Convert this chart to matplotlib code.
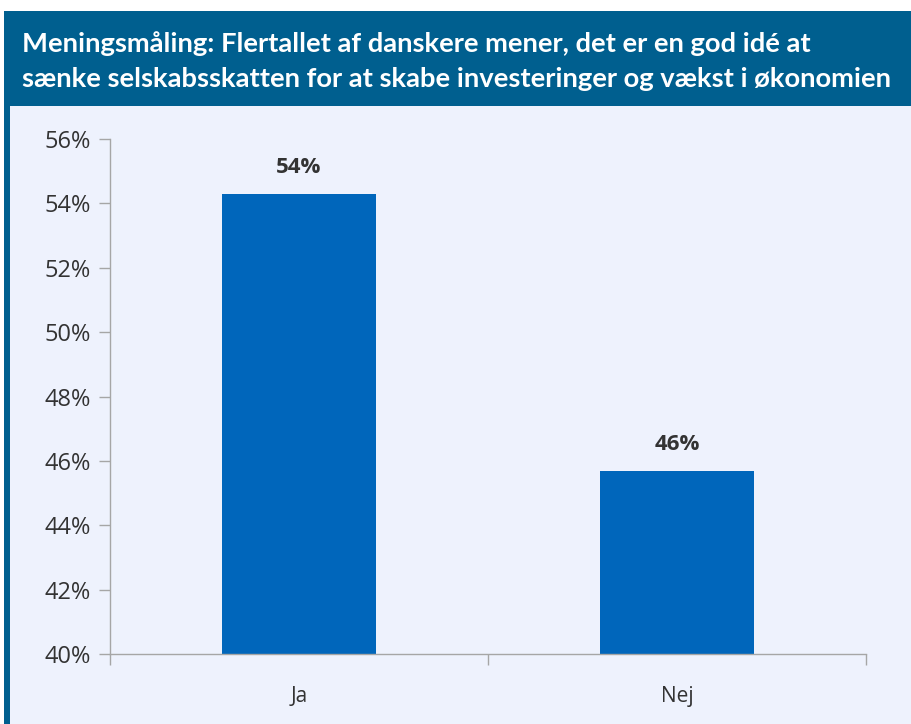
import matplotlib
matplotlib.use("Agg")
import matplotlib.pyplot as plt
from matplotlib.patches import Rectangle
from matplotlib.ticker import FuncFormatter, FixedLocator

categories = ["Ja", "Nej"]
values = [54.3, 45.7]
value_labels = ["54%", "46%"]
yticks = [40, 42, 44, 46, 48, 50, 52, 54, 56]
title_lines = ["Meningsmåling: Flertallet af danskere mener, det er en god idé at",
               "sænke selskabsskatten for at skabe investeringer og vækst i økonomien"]

W, H = 912, 724
fig = plt.figure(figsize=(W / 100, H / 100), dpi=100)
fig.patch.set_facecolor("white")

dark = "#005f8f"
bg = "#eef2fd"
barc = "#0066bb"
txt = "#333333"
axc = "#a6a6a6"

# background panel
fig.add_artist(Rectangle((10 / W, 0), 1 - 10 / W, 1 - 106 / H, transform=fig.transFigure,
                         facecolor=bg, edgecolor="none", zorder=0))
# title bar
fig.add_artist(Rectangle((4 / W, 1 - 106 / H), 1 - 4 / W, (106 - 11) / H, transform=fig.transFigure,
                         facecolor=dark, edgecolor="none", zorder=0))
# left border
fig.add_artist(Rectangle((4 / W, 0), 6 / W, 1 - 106 / H, transform=fig.transFigure,
                         facecolor=dark, edgecolor="none", zorder=0))

fig.text(22 / W, 1 - 44 / H, title_lines[0], color="white", fontsize=19.7, fontweight="bold",
         family="Lato", va="center", ha="left")
fig.text(22 / W, 1 - 79 / H, title_lines[1], color="white", fontsize=19.7, fontweight="bold",
         family="Lato", va="center", ha="left")

ax = fig.add_axes([110 / W, (H - 654) / H, (866 - 110) / W, (654 - 139) / H])
ax.set_facecolor("none")
x = list(range(len(categories)))
bars = ax.bar(x, values, width=0.41, color=barc, zorder=2)
ax.set_ylim(40, 56)
ax.set_xlim(-0.5, len(categories) - 0.5)
ax.yaxis.set_major_locator(FixedLocator(yticks))
ax.yaxis.set_major_formatter(FuncFormatter(lambda v, p: f"{v:.0f}%"))
ax.set_xticks(x)
ax.set_xticklabels(categories)
ax.xaxis.set_minor_locator(FixedLocator([-0.5, 0.5, 1.5]))
ax.tick_params(axis="x", which="major", length=0, pad=23, labelsize=15, labelcolor=txt)
ax.tick_params(axis="x", which="minor", length=8, color=axc, width=1)
ax.tick_params(axis="y", length=8, color=axc, width=1, labelsize=17, labelcolor=txt, pad=6)
for lab in ax.get_xticklabels() + ax.get_yticklabels():
    lab.set_family("Open Sans")
for s in ["top", "right"]:
    ax.spines[s].set_visible(False)
for s in ["left", "bottom"]:
    ax.spines[s].set_color(axc)
    ax.spines[s].set_linewidth(1)

for xi, v, lab in zip(x, values, value_labels):
    ax.annotate(lab, (xi, v), xytext=(0, 11), textcoords="offset points", ha="center", va="bottom",
                fontsize=16, fontweight="bold", color=txt, family="Open Sans")

fig.savefig("out.png", dpi=100, facecolor=fig.get_facecolor())
